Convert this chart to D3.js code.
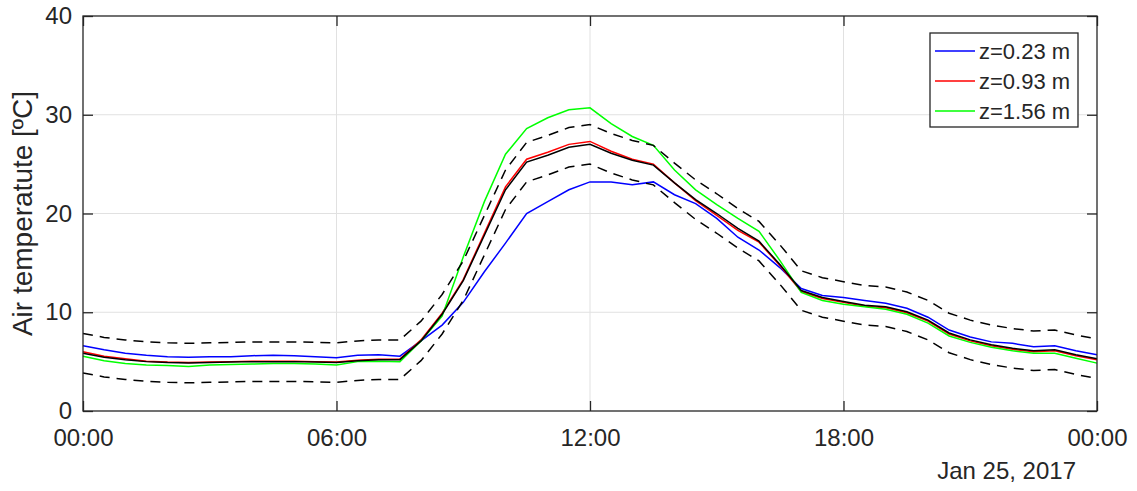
<!DOCTYPE html>
<html>
<head>
<meta charset="utf-8">
<script src="https://cdn.jsdelivr.net/npm/d3@7"></script>
<style>
  html, body { margin: 0; padding: 0; background: #fff; }
  svg { display: block; }
  text { font-family: "Liberation Sans", Arial, Helvetica, sans-serif; fill: #262626; }
</style>
</head>
<body>
<svg id="chart" width="1137" height="491"></svg>
<script>
// ---- data (hours since Jan 25, 2017 00:00) ----
const hours = [0,0.5,1,1.5,2,2.5,3,3.5,4,4.5,5,5.5,6,6.5,7,7.5,8,8.5,9,9.5,10,10.5,11,11.5,12,12.5,13,13.5,14,14.5,15,15.5,16,16.5,17,17.5,18,18.5,19,19.5,20,20.5,21,21.5,22,22.5,23,23.5,24];

const blue  = [6.6,6.2,5.85,5.65,5.5,5.45,5.5,5.5,5.6,5.65,5.6,5.5,5.4,5.65,5.7,5.55,7.1,8.7,11.0,14.1,17.0,20.0,21.2,22.4,23.2,23.2,22.9,23.2,21.9,21.0,19.5,17.6,16.3,14.5,12.4,11.7,11.5,11.2,10.9,10.4,9.5,8.2,7.5,7.0,6.85,6.5,6.6,6.1,5.7];
const red   = [6.0,5.55,5.28,5.05,4.95,4.9,4.95,5.0,5.05,5.05,5.05,5.0,4.95,5.15,5.25,5.25,7.2,9.9,13.3,18.0,22.7,25.5,26.2,27.0,27.3,26.3,25.5,25.0,23.1,21.3,19.8,18.3,17.1,14.7,12.1,11.4,11.0,10.6,10.45,9.95,9.1,7.8,7.1,6.6,6.25,6.0,6.1,5.6,5.2];
const green = [5.55,5.1,4.8,4.65,4.6,4.5,4.65,4.7,4.75,4.8,4.8,4.75,4.65,5.0,5.05,5.0,7.1,9.6,15.6,21.2,26.0,28.6,29.7,30.5,30.7,29.1,27.8,26.9,24.4,22.4,20.9,19.5,18.2,15.2,12.0,11.2,10.8,10.55,10.3,9.8,8.9,7.6,6.95,6.45,6.1,5.85,5.85,5.35,4.85];
const black = [5.85,5.45,5.2,5.0,4.9,4.85,4.9,4.95,5.0,5.0,5.0,4.95,4.9,5.1,5.2,5.2,7.1,9.8,13.2,17.8,22.4,25.2,25.9,26.7,27.0,26.1,25.4,24.9,23.1,21.4,20.0,18.5,17.2,14.8,12.2,11.5,11.1,10.7,10.55,10.05,9.2,7.9,7.2,6.7,6.35,6.1,6.2,5.7,5.3];
const upper = [7.85,7.45,7.2,7.0,6.9,6.85,6.9,6.95,7.0,7.0,7.0,6.95,6.9,7.1,7.2,7.2,9.1,11.8,15.2,19.8,24.4,27.2,27.9,28.7,29.0,28.1,27.4,26.9,25.1,23.4,22.0,20.5,19.2,16.8,14.2,13.5,13.1,12.7,12.55,12.05,11.2,9.9,9.2,8.7,8.35,8.1,8.2,7.7,7.3];
const lower = [3.85,3.45,3.2,3.0,2.9,2.85,2.9,2.95,3.0,3.0,3.0,2.95,2.9,3.1,3.2,3.2,5.1,7.8,11.2,15.8,20.4,23.2,23.9,24.7,25.0,24.1,23.4,22.9,21.1,19.4,18.0,16.5,15.2,12.8,10.2,9.5,9.1,8.7,8.55,8.05,7.2,5.9,5.2,4.7,4.35,4.1,4.2,3.7,3.3];

const legendLabels = ["z=0.23 m", "z=0.93 m", "z=1.56 m"];
const legendColors = ["#0000ff", "#ff0000", "#00ff00"];
const yTicks = [0, 10, 20, 30, 40];
const dateLabel = "Jan 25, 2017";
const yLabel = "Air temperatute [\u00BAC]";

// ---- layout ----
const svg = d3.select("#chart");
const L = 83, R = 1097, T = 16, B = 411;
const t0 = new Date(2017, 0, 25, 0, 0);
const t1 = new Date(2017, 0, 26, 0, 0);
const toDate = h => new Date(t0.getTime() + h * 3600000);

const x = d3.scaleTime().domain([t0, t1]).range([L, R]);
const y = d3.scaleLinear().domain([0, 40]).range([B, T]);
const xTickVals = x.ticks(d3.timeHour.every(6));
const axisColor = "#262626";
const gridColor = "#e1e1e1";

// grid
const grid = svg.append("g");
grid.selectAll(".gx").data(xTickVals.slice(1, -1)).join("line")
  .attr("x1", d => x(d)).attr("x2", d => x(d)).attr("y1", T).attr("y2", B)
  .attr("stroke", gridColor).attr("stroke-width", 1);
grid.selectAll(".gy").data(yTicks.slice(1, -1)).join("line")
  .attr("x1", L).attr("x2", R).attr("y1", d => y(d)).attr("y2", d => y(d))
  .attr("stroke", gridColor).attr("stroke-width", 1);

// lines
const line = d3.line().x((d, i) => x(toDate(hours[i]))).y(d => y(d));
const plot = svg.append("g");
const series = [
  { v: blue, c: "#0000ff", dash: null },
  { v: red, c: "#ff0000", dash: null },
  { v: green, c: "#00ff00", dash: null },
  { v: black, c: "#000000", dash: null },
  { v: upper, c: "#000000", dash: "10,7" },
  { v: lower, c: "#000000", dash: "10,7" }
];
series.forEach(s => {
  plot.append("path").datum(s.v).attr("d", line)
    .attr("fill", "none").attr("stroke", s.c).attr("stroke-width", 1.5)
    .attr("stroke-dasharray", s.dash);
});

// axes (MATLAB box style, inward ticks)
const fmt = d3.timeFormat("%H:%M");
const xAxis = d3.axisBottom(x).tickValues(xTickVals).tickFormat(fmt).tickSize(-10).tickPadding(18);
const gx = svg.append("g").attr("transform", `translate(0,${B})`).call(xAxis);
const yAxis = d3.axisLeft(y).tickValues(yTicks).tickSize(-10).tickPadding(11);
const gy = svg.append("g").attr("transform", `translate(${L},0)`).call(yAxis);
const gxTop = svg.append("g").attr("transform", `translate(0,${T})`)
  .call(d3.axisTop(x).tickValues(xTickVals).tickFormat("").tickSize(-10));
const gyRight = svg.append("g").attr("transform", `translate(${R},0)`)
  .call(d3.axisRight(y).tickValues(yTicks).tickFormat("").tickSize(-10));
[gx, gy, gxTop, gyRight].forEach(g => {
  g.selectAll(".tick line").attr("stroke", axisColor).attr("stroke-width", 1.3);
  g.selectAll(".tick text").attr("fill", axisColor)
    .style("font-family", "'Liberation Sans', Arial, sans-serif").style("font-size", "24px");
});
svg.selectAll(".domain").remove();
svg.append("rect").attr("x", L).attr("y", T).attr("width", R - L).attr("height", B - T)
  .attr("fill", "none").attr("stroke", axisColor).attr("stroke-width", 1.3);

// date label
svg.append("text").attr("x", 1076).attr("y", 479).attr("text-anchor", "end")
  .style("font-size", "24px").text(dateLabel);

// y label
svg.append("text")
  .attr("transform", `translate(32,${(T + B) / 2}) rotate(-90)`)
  .attr("text-anchor", "middle").style("font-size", "28px").text(yLabel);

// legend
const lg = svg.append("g");
lg.append("rect").attr("x", 930).attr("y", 33).attr("width", 148).attr("height", 94)
  .attr("fill", "#fff").attr("stroke", axisColor).attr("stroke-width", 1.3);
legendLabels.forEach((lab, i) => {
  const yy = 51 + i * 30;
  lg.append("line").attr("x1", 935).attr("x2", 975).attr("y1", yy).attr("y2", yy)
    .attr("stroke", legendColors[i]).attr("stroke-width", 1.5);
  lg.append("text").attr("x", 979).attr("y", yy + 8).style("font-size", "22px").text(lab);
});
</script>
</body>
</html>
